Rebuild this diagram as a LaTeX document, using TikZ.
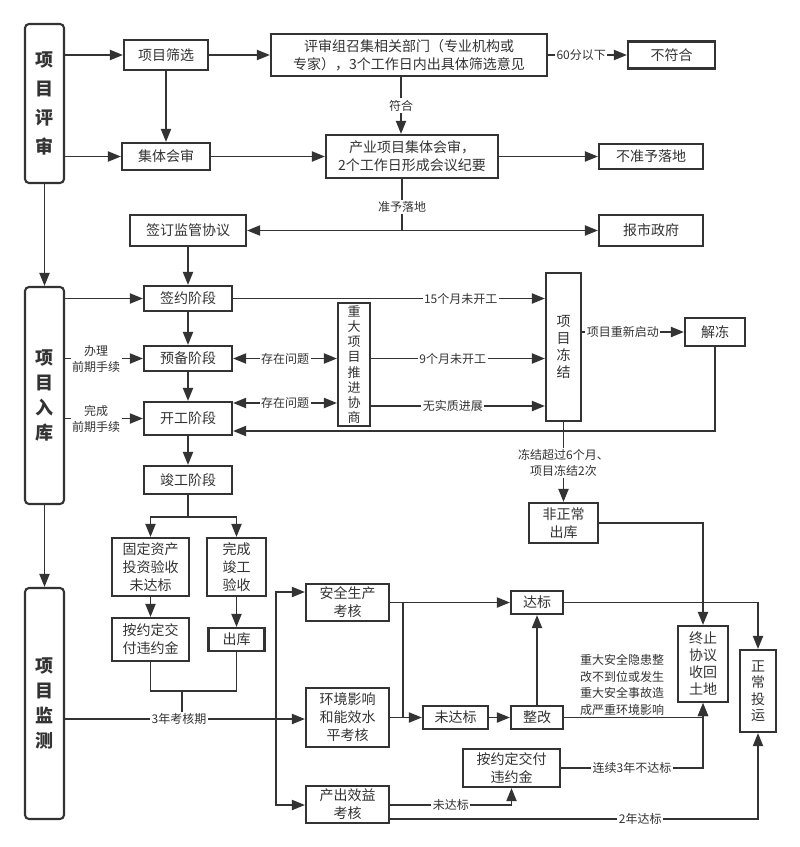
\documentclass[tikz,border=0pt]{standalone}
\usepackage{fontspec}
\setmainfont{Noto Sans CJK SC}
\usetikzlibrary{arrows.meta}
\definecolor{lc}{HTML}{333333}
\definecolor{tc}{HTML}{333333}
\newcommand\vf[1]{\fontsize{14}{#1}\selectfont}
\newcommand\bigf[1]{\fontsize{18}{#1}\selectfont\bfseries}
\tikzset{
  box/.style={draw=lc, line width=2.1pt, fill=white, inner sep=0pt, align=center, text=tc, font=\fontsize{14}{18}\selectfont},
  bigbox/.style={draw=lc, line width=2.1pt, fill=white, inner sep=0pt, align=center, text=tc, rounded corners=4pt},
  lbl/.style={fill=white, inner sep=1.5pt, align=center, text=tc, font=\fontsize{12}{16}\selectfont},
  arr/.style={draw=lc, line width=1.9pt, -{Triangle[length=13pt,width=10pt]}},
  darr/.style={draw=lc, line width=1.9pt, {Triangle[length=13pt,width=10pt]}-{Triangle[length=13pt,width=10pt]}},
  ln/.style={draw=lc, line width=1.9pt}
}
\begin{document}
\begin{tikzpicture}[x=1pt,y=-1pt]
\fill[white] (0,0) rectangle (800,847);
\useasboundingbox (0,0) rectangle (800,847);

% big stage labels
\node[bigbox, minimum width=39pt, minimum height=159pt, font={\bigf{29}}] (pr) at (44.5,103.5) {项\\目\\评\\审};
\node[bigbox, minimum width=39pt, minimum height=217pt, font={\bigf{25}}] (rk) at (44.5,395.5) {项\\目\\入\\库};
\node[bigbox, minimum width=39pt, minimum height=231pt, font={\bigf{25}}] (jc) at (44.5,703.5) {项\\目\\监\\测};

% boxes
\node[box, minimum width=84pt, minimum height=30pt] (sx) at (166,55) {项目筛选};
\node[box, minimum width=276pt, minimum height=42pt] (pszz) at (409,55) {评审组召集相关部门（专业机构或\\专家），3个工作日内出具体筛选意见};
\node[box, minimum width=87pt, minimum height=27pt] (bfh) at (671.5,55) {不符合};
\node[box, minimum width=88pt, minimum height=27pt] (jths) at (166,156.5) {集体会审};
\node[box, minimum width=172pt, minimum height=43pt] (cyhs) at (412,156.5) {产业项目集体会审，\\2个工作日形成会议纪要};
\node[box, minimum width=104pt, minimum height=25pt] (bzy) at (651,156.5) {不准予落地};
\node[box, minimum width=116pt, minimum height=31pt] (qd) at (188,230.5) {签订监管协议};
\node[box, minimum width=104pt, minimum height=31pt] (bsz) at (651,230.5) {报市政府};
\node[box, minimum width=88pt, minimum height=25pt] (qy) at (188,298.5) {签约阶段};
\node[box, minimum width=88pt, minimum height=25pt] (yb) at (188,358.5) {预备阶段};
\node[box, minimum width=88pt, minimum height=33pt] (kg) at (188,418.5) {开工阶段};
\node[box, minimum width=88pt, minimum height=28pt] (jg) at (188,480) {竣工阶段};
\node[box, minimum width=32pt, minimum height=123pt, font=\fontsize{13}{15.2}\selectfont] (zd) at (354,364.5) {重\\大\\项\\目\\推\\进\\协\\商};
\node[box, minimum width=35pt, minimum height=148pt, font={\vf{17}}] (dj) at (563.5,347) {项\\目\\冻\\结};
\node[box, minimum width=60pt, minimum height=28pt] (jd) at (715,332) {解冻};
\node[box, minimum width=69pt, minimum height=40pt] (fzc) at (563.5,523) {非正常\\出库};
\node[box, minimum width=77pt, minimum height=58pt] (gd) at (150.5,567) {固定资产\\投资验收\\未达标};
\node[box, minimum width=59pt, minimum height=58pt] (wc) at (236.5,567) {完成\\竣工\\验收};
\node[box, minimum width=77pt, minimum height=43pt] (ayd1) at (150.5,639.5) {按约定交\\付违约金};
\node[box, minimum width=56pt, minimum height=23pt] (ck) at (236.5,639.5) {出库};
\node[box, minimum width=83pt, minimum height=37pt] (aq) at (347.5,602.5) {安全生产\\考核};
\node[box, minimum width=83pt, minimum height=59pt] (hj) at (347.5,717.5) {环境影响\\和能效水\\平考核};
\node[box, minimum width=83pt, minimum height=37pt] (cc) at (347.5,804.5) {产出效益\\考核};
\node[box, minimum width=52pt, minimum height=23pt] (db) at (537,602.5) {达标};
\node[box, minimum width=65pt, minimum height=23pt] (wdb) at (455.5,717.5) {未达标};
\node[box, minimum width=52pt, minimum height=23pt] (zg) at (537,717.5) {整改};
\node[box, minimum width=97pt, minimum height=38pt] (ayd2) at (511.5,768) {按约定交付\\违约金};
\node[box, minimum width=50pt, minimum height=76pt, font={\vf{17}}] (zz) at (703,664) {终止\\协议\\收回\\土地};
\node[box, minimum width=36pt, minimum height=82pt, font={\vf{16.5}}] (ztc) at (758,691) {正\\常\\投\\运};

% helper lane coordinates
\coordinate (cfh) at (401,0);
\coordinate (czy) at (402,230.5);
\coordinate (cwt) at (0,403);
\coordinate (cwz) at (0,406);
\coordinate (cjd) at (0,431);
\coordinate (cjg) at (188,517);
\coordinate (cmid) at (182,691);
\coordinate (ckh) at (276,719);
\coordinate (caq) at (276,592);
\coordinate (ccc) at (276,805);
\coordinate (cv) at (403,0);
\coordinate (c2n) at (0,819);

% review stage
\draw[arr] (pr.east |- sx.west) -- (sx.west);
\draw[arr] (sx.east) -- (pszz.west);
\draw[arr] (pszz.east) -- node[lbl, pos=0.42]{60分以下} (bfh.west);
\draw[arr] (sx.south) -- (jths.north);
\draw[arr] (pr.east |- jths.west) -- (jths.west);
\draw[arr] (jths.east) -- (cyhs.west);
\draw[arr] (cfh |- pszz.south) -- node[lbl]{符合} (cfh |- cyhs.north);
\draw[arr] (cyhs.east) -- (bzy.west);
\draw[ln] (czy |- cyhs.south) -- node[lbl, pos=0.54]{准予落地} (czy);
\draw[arr] (czy) -- (qd.east);
\draw[arr] (czy) -- (bsz.west);
\draw[arr] (pr.south) -- (rk.north);

% storage stage
\draw[arr] (qd.south) -- (qy.north);
\draw[arr] (rk.east |- qy.west) -- (qy.west);
\draw[arr] (rk.east |- yb.west) -- node[lbl, pos=0.4]{办理\\前期手续} (yb.west);
\draw[arr] (rk.east |- kg.west) -- node[lbl, pos=0.4]{完成\\前期手续} (kg.west);
\draw[arr] (qy.south) -- (yb.north);
\draw[arr] (yb.south) -- (kg.north);
\draw[arr] (kg.south) -- (jg.north);
\draw[darr] (yb.east) -- node[lbl]{存在问题} (zd.west |- yb.east);
\draw[darr] (kg.east |- cwt) -- node[lbl]{存在问题} (zd.west |- cwt);
\draw[arr] (qy.east) -- node[lbl, pos=0.73]{15个月未开工} (dj.west |- qy.east);
\draw[arr] (zd.east |- yb.east) -- node[lbl, pos=0.47]{9个月未开工} (dj.west |- yb.east);
\draw[arr] (zd.east |- cwz) -- node[lbl, pos=0.47]{无实质进展} (dj.west |- cwz);
\draw[arr] (dj.east |- jd.west) -- node[lbl, pos=0.4]{项目重新启动} (jd.west);
\draw[arr] (jd.south) |- (kg.east |- cjd);
\draw[arr] (dj.south) -- node[lbl, pos=0.51]{冻结超过6个月、\\项目冻结2次} (fzc.north);
\draw[ln] (jg.south) -- (cjg);
\draw[arr] (cjg) -| (gd.north);
\draw[arr] (cjg) -| (wc.north);
\draw[arr] (gd.south) -- (ayd1.north);
\draw[arr] (wc.south) -- (ck.north);
\draw[ln] (ayd1.south) |- (cmid) -| (ck.south);
\draw[ln] (cmid) -- (cmid |- ckh);
\draw[arr] (rk.south) -- (jc.north);

% monitoring stage
\draw[ln] (jc.east |- ckh) -- node[lbl, pos=0.54]{3年考核期} (ckh);
\draw[arr] (ckh) -- (hj.west |- ckh);
\draw[arr] (ckh) |- (aq.west |- caq);
\draw[arr] (ckh) |- (cc.west |- ccc);
\draw[arr] (aq.east) -- (db.west);
\draw[ln] (cv |- aq.east) -- (cv |- hj.east);
\draw[arr] (hj.east) -- (wdb.west);
\draw[arr] (wdb.east) -- (zg.west);
\draw[arr] (zg.north) -- (db.south);
\draw[arr] (db.east) -| (ztc.north);
\draw[arr] (zg.east) -| (zz.south);
\node[text=tc, align=center, font=\fontsize{12}{16.5}\selectfont] (lbzd) at (622,685) {重大安全隐患整\\改不到位或发生\\重大安全事故造\\成严重环境影响};
\draw[arr] (ayd2.east) -| node[lbl, pos=0.25]{连续3年不达标} (zz.south);
\draw[arr] (fzc.east) -| (zz.north);
\draw[arr] (cc.east |- ccc) -| node[lbl, pos=0.25]{未达标} (ayd2.south);
\draw[arr] (cc.east |- c2n) -| node[lbl, pos=0.34]{2年达标} (ztc.south);
\end{tikzpicture}
\end{document}
